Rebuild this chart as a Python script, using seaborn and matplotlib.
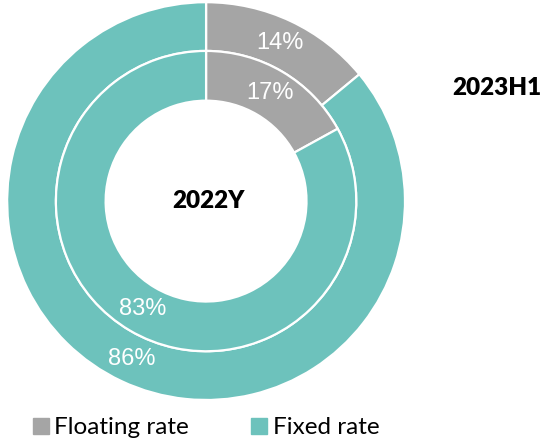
import matplotlib
matplotlib.use("Agg")
import matplotlib.pyplot as plt
from matplotlib.lines import Line2D
import seaborn as sns

# Rate mix: outer ring = 2023H1, inner ring = 2022Y
categories = ["Floating rate", "Fixed rate"]
share_2023h1 = [14, 86]
share_2022y = [17, 83]
period_outer = "2023H1"
period_inner = "2022Y"

sns.set_style("white")
plt.rcParams["font.family"] = ["Lato", "DejaVu Sans"]

palette = sns.color_palette(["#A5A5A5", "#6DC2BC"])

fig = plt.figure(figsize=(5.51, 4.41), dpi=100)
ax = fig.add_axes([0.013, 0.0930, 0.722, 0.9020])

wedge_style = dict(edgecolor="white", linewidth=1.6)
label_style = dict(color="white", fontsize=17, family="Liberation Sans")

ring = 0.245
ax.pie(share_2023h1, radius=1.0, colors=palette, startangle=90,
       counterclock=False, autopct="%.0f%%", pctdistance=(1 - ring / 2) / 1.0,
       wedgeprops=dict(width=ring, **wedge_style), textprops=label_style)
ax.pie(share_2022y, radius=0.755, colors=palette, startangle=90,
       counterclock=False, autopct="%.0f%%", pctdistance=(0.755 - 0.125) / 0.755,
       wedgeprops=dict(width=0.25, **wedge_style), textprops=label_style)

ax.set_xlim(-1, 1)
ax.set_ylim(-1, 1)
ax.set_aspect("auto")
ax.axis("off")

ax.text(0.01, 0.0, period_inner, ha="center", va="center",
        fontsize=17.5, fontweight="heavy", color="black")
fig.text(0.902, 0.80, period_outer, ha="center", va="center",
         fontsize=17.5, fontweight="heavy", color="black")

handles = [Line2D([], [], marker="s", linestyle="", markersize=11,
                  markerfacecolor=c, markeredgecolor=c) for c in palette]
fig.legend(handles, categories, loc="center", bbox_to_anchor=(0.372, 0.030),
           ncol=2, frameon=False, fontsize=17.5, handletextpad=0.15,
           columnspacing=2.5, handlelength=0.8, labelcolor="#000000")

fig.savefig("out.png", dpi=100, facecolor="white")
